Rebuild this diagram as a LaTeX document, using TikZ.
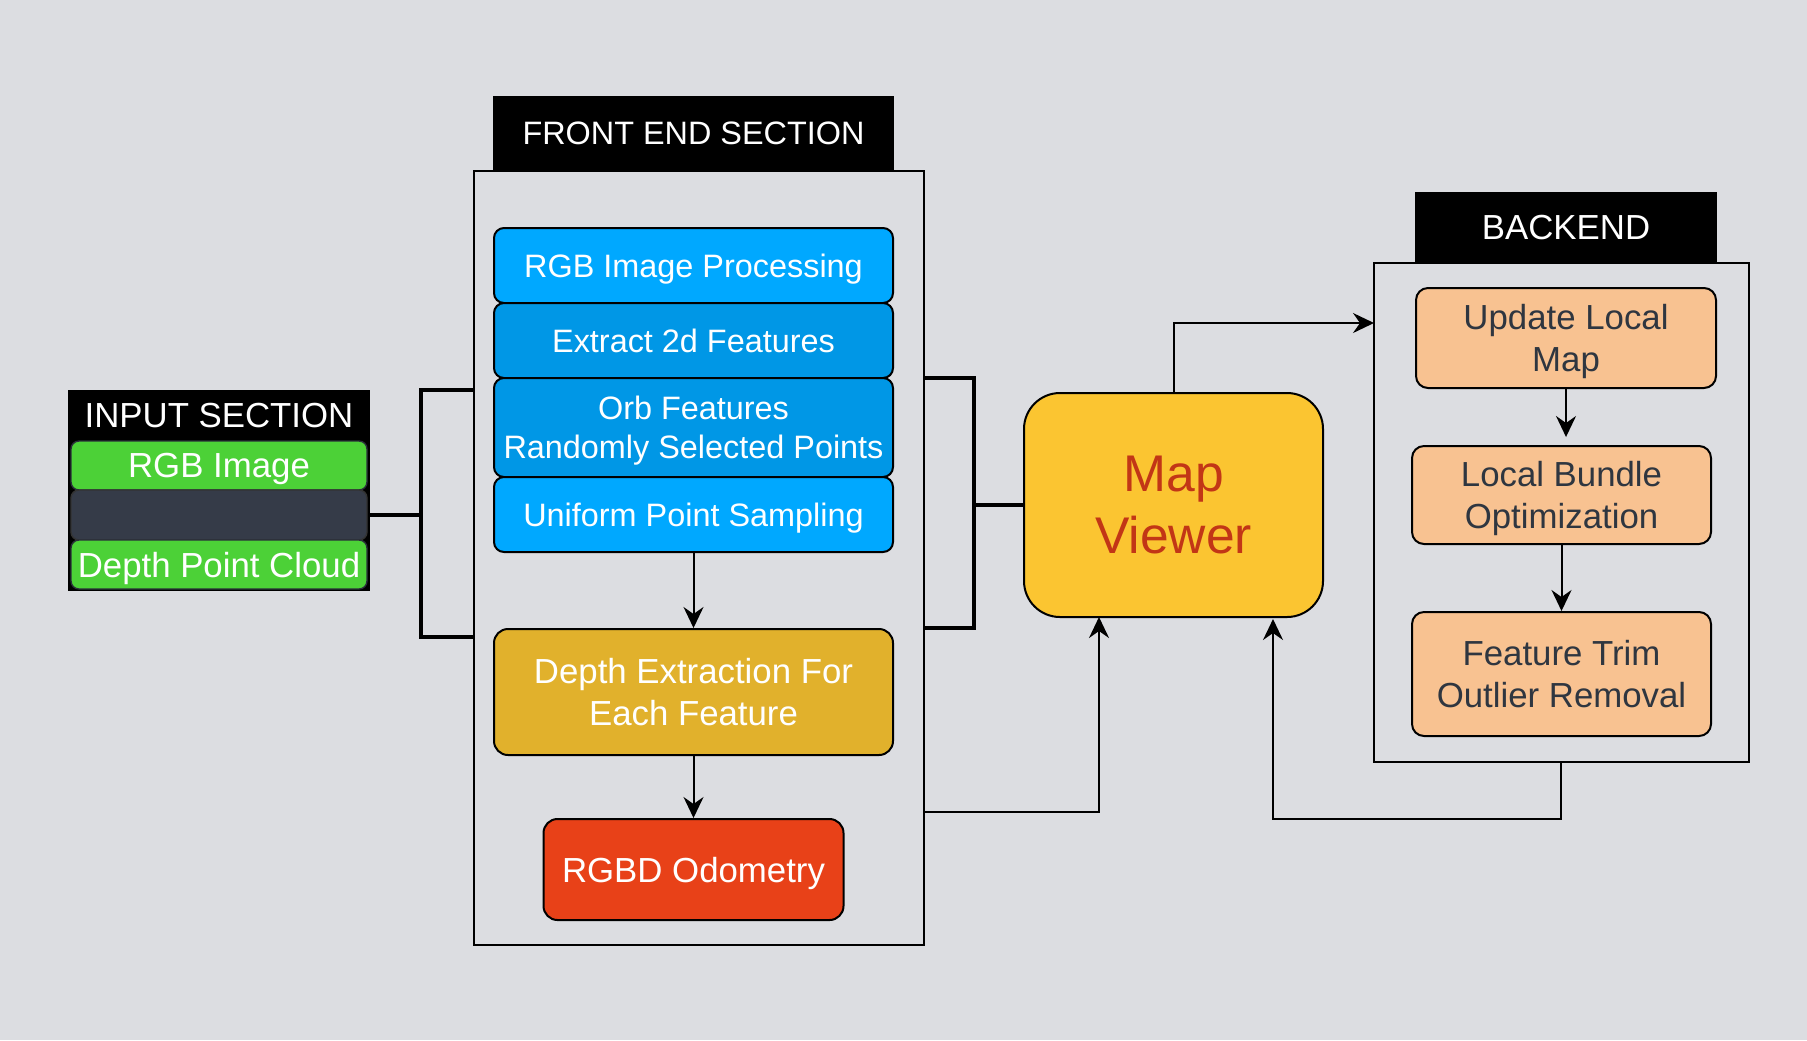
\documentclass[tikz,border=0pt]{standalone}
\usepackage{fontspec}
\setmainfont{Liberation Sans}
\usetikzlibrary{arrows.meta}
\definecolor{bggray}{HTML}{DCDDE1}
\definecolor{ingreen}{HTML}{4CD137}
\definecolor{inband}{HTML}{353B48}
\definecolor{feblue}{HTML}{00A8FF}
\definecolor{feblued}{HTML}{0097E6}
\definecolor{feyellow}{HTML}{E1B12C}
\definecolor{fered}{HTML}{E84118}
\definecolor{mvyellow}{HTML}{FBC531}
\definecolor{mvtext}{HTML}{C23616}
\definecolor{bepeach}{HTML}{F8C291}
\definecolor{betext}{HTML}{2F3640}

\begin{document}
\begin{tikzpicture}[x=0.5pt, y=-0.5pt,
    titlebox/.style ={fill=black, text=white, inner sep=0pt, text depth=0pt, font=\fontsize{17.4}{21}\selectfont},
    section/.style ={draw=black, line width=1pt, inner sep=0pt},
    inbox/.style ={draw=inband!80!black, fill=ingreen, rounded corners=4pt, line width=0.7pt,
            text=white, inner sep=0pt, text depth=0pt, minimum width=148pt, minimum height=24.5pt,
            font=\fontsize{17.4}{21}\selectfont},
    febox/.style ={draw=black, rounded corners=5pt, line width=1pt, text=white, align=center,
            inner sep=0pt, text depth=0pt, minimum width=199.5pt, font=\fontsize{16.2}{19.6}\selectfont},
    bebox/.style ={draw=black, fill=bepeach, rounded corners=6pt, line width=1pt, text=betext,
            align=center, inner sep=0pt, text depth=0pt, minimum width=149.5pt,
            font=\fontsize{17.4}{20.7}\selectfont},
    brk/.style ={draw=black, line width=2pt},
    arr/.style ={draw=black, line width=1pt, -{Stealth[length=10.5pt, width=10pt, inset=3.5pt]}}]

    % fondo
    \fill[bggray] (0,0) rectangle (1807,1040);
    \useasboundingbox (0,0) rectangle (1807,1040);

    % entrada
    \node[section, fill=black, minimum width=150pt, minimum height=99.5pt] (input) at (219,490.5) {};
    \node[text=white, text depth=0pt, font=\fontsize{17.4}{21}\selectfont] (intitle) at (219,415) {INPUT SECTION};
    \node[inbox] (rgbimg) at (219,465.5) {RGB Image};
    \node[inbox, fill=inband, draw=black!80, minimum height=25pt] (band) at (219,515) {};
    \node[inbox] (depthpc) at (219,564.5) {Depth Point Cloud};

    % front end
    \node[section, minimum width=225pt, minimum height=387pt] (front) at (699,558) {};
    \node[titlebox, minimum width=200.5pt, minimum height=37.5pt,
          font=\fontsize{16.2}{19.6}\selectfont] (fetitle) at (693.5,133.5) {FRONT END SECTION};
    \node[febox, fill=feblue, minimum height=37.5pt] (rgbproc) at (693.5,265.5) {RGB Image Processing};
    \node[febox, fill=feblued, minimum height=37.5pt] (extract) at (693.5,340.5) {Extract 2d Features};
    \node[febox, fill=feblued, minimum height=49.5pt] (orb) at (693.5,427.5) {Orb Features\\Randomly Selected Points};
    \node[febox, fill=feblue, minimum height=37.5pt] (uniform) at (693.5,514.5) {Uniform Point Sampling};
    \node[febox, fill=feyellow, minimum height=63pt, rounded corners=7pt,
          font=\fontsize{17.4}{20.7}\selectfont] (depthex) at (693.5,692) {Depth Extraction For\\Each Feature};
    \node[febox, fill=fered, minimum width=150pt, minimum height=50.5pt, rounded corners=7pt,
          font=\fontsize{17.4}{20.7}\selectfont] (odom) at (693.5,869.5) {RGBD Odometry};

    % map viewer
    \node[draw=black, fill=mvyellow, line width=1pt, rounded corners=18pt, text=mvtext, align=center,
          inner sep=0pt, text depth=0pt, minimum width=149.5pt, minimum height=112pt,
          font=\fontsize{25.8}{31}\selectfont] (mapview) at (1173.5,505) {Map\\Viewer};

    % backend
    \node[section, minimum width=187.5pt, minimum height=249.5pt] (back) at (1561.5,512.5) {};
    \node[titlebox, minimum width=151pt, minimum height=35.5pt] (betitle) at (1566,227.5) {BACKEND};
    \node[bebox, minimum width=150pt, minimum height=50pt] (update) at (1566,338) {Update Local\\Map};
    \node[bebox, minimum height=49pt] (bundle) at (1561.5,495) {Local Bundle\\Optimization};
    \node[bebox, minimum height=62pt] (trim) at (1561.5,674) {Feature Trim\\Outlier Removal};

    % corchetes
    \coordinate (lb1) at (421,390);
    \coordinate (lb2) at (421,637);
    \coordinate (rb1) at (974,378);
    \coordinate (rb2) at (974,628);
    \draw[brk] (front.west |- lb1) -- (lb1) -- (lb2) -- (front.west |- lb2);
    \draw[brk] (input.east |- band) -- (lb1 |- band);
    \draw[brk] (front.east |- rb1) -- (rb1) -- (rb2) -- (front.east |- rb2);
    \draw[brk] (rb1 |- mapview) -- (mapview.west);

    % flechas
    \coordinate (bein) at (1374,323);
    \coordinate (feout) at (924,812);
    \coordinate (mvin1) at (1099,617);
    \coordinate (beout) at (1561,762);
    \coordinate (mvin2) at (1273,619);
    \coordinate (beloop) at (1561,819);

    \path (uniform) edge [arr] (depthex);
    \path (depthex) edge [arr] (odom);
    \draw[arr] (mapview.north) |- (bein);
    \draw[arr] (feout) -| (mvin1);
    \draw[arr] (beout) -- (beloop) -| (mvin2);
    \draw[arr, shorten >=4pt] (update.south) -- (update.south |- bundle.north);
    \draw[arr] (bundle.south) -- (trim.north);

\end{tikzpicture}
\end{document}
